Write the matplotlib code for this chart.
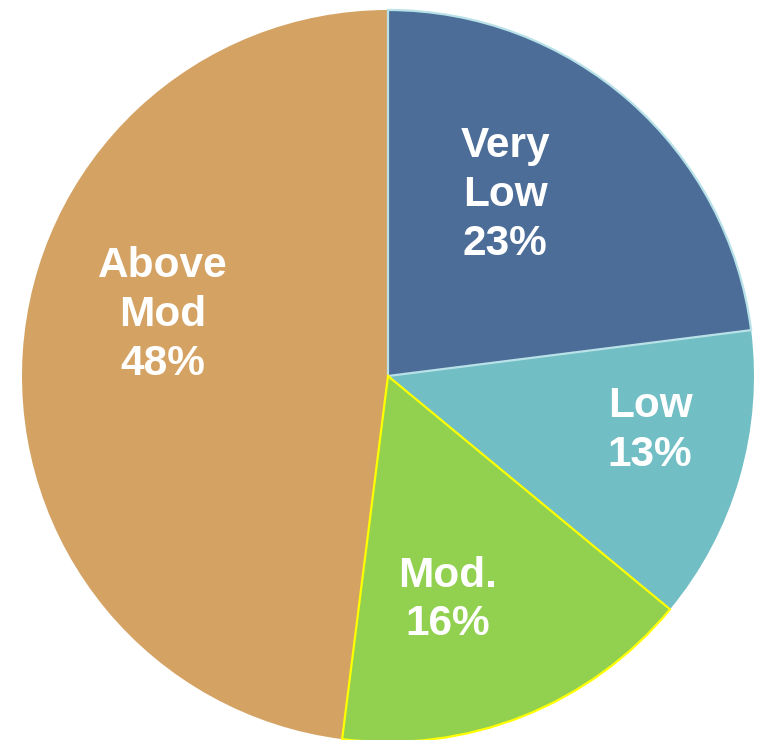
import matplotlib
matplotlib.use("Agg")
import matplotlib.pyplot as plt

# Share of sites in each category
categories = ["Very\nLow", "Low", "Mod.", "Above\nMod"]
shares = [23, 13, 16, 48]
colors = ["#4B6D98", "#71BEC4", "#92D050", "#D4A263"]
edge_colors = ["#B9E2E8", "none", "#FFFF00", "none"]

# Label anchor points, in units of the pie radius
label_pos = [(0.32, 0.495), (0.716, -0.148), (0.164, -0.612), (-0.615, 0.167)]

plt.rcParams["font.family"] = ["Liberation Sans", "DejaVu Sans"]

fig = plt.figure(figsize=(7.63, 7.40), dpi=100)
ax = fig.add_axes([0, 0, 1, 1])

wedges, _ = ax.pie(shares, colors=colors, startangle=90, counterclock=False,
                   radius=1.0, center=(0, 0))

for w, ec in zip(wedges, edge_colors):
    if ec == "none":
        w.set_edgecolor("none")
    else:
        w.set_edgecolor(ec)
        w.set_linewidth(1.6)
        w.set_zorder(3)

for cat, val, (x, y) in zip(categories, shares, label_pos):
    ax.text(x, y, f"{cat}\n{val}%", ha="center", va="center", color="white",
            fontsize=30.5, fontweight="bold", linespacing=1.28, zorder=5)

# Map the pie so it sits where it should on the canvas
ax.set_aspect("auto")
ax.set_xlim(-388 / 366, (763 - 388) / 366)
ax.set_ylim(-(740 - 376) / 366, 376 / 366)
ax.axis("off")

fig.savefig("out.png", dpi=100, facecolor="white")
